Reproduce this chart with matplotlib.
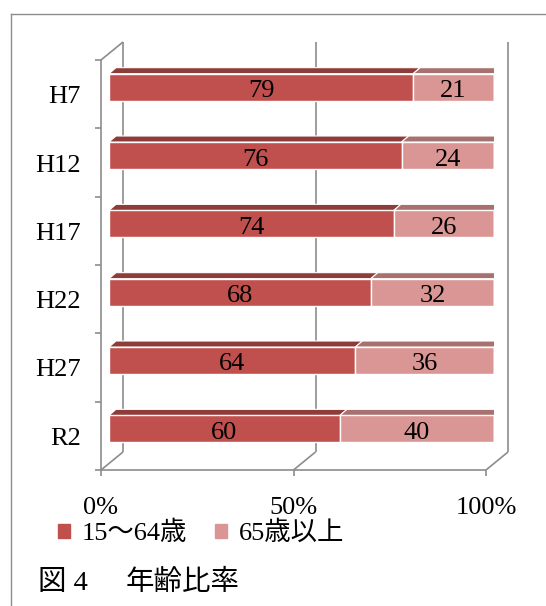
import matplotlib
matplotlib.use('Agg')
import matplotlib.pyplot as plt
from matplotlib.patches import Polygon, Patch
from matplotlib.lines import Line2D

# data (bottom to top)
years = ['R2', 'H27', 'H22', 'H17', 'H12', 'H7']
working = [60, 64, 68, 74, 76, 79]
elderly = [40, 36, 32, 26, 24, 21]
series_names = ['15～64歳', '65歳以上']
xticks = [0, 50, 100]
xtick_labels = ['0%', '50%', '100%']

# colours
front_cols = ['#C0504D', '#D99694']
top_cols = ['#8E3C3A', '#A8716F']
side_col = '#704A4A'
grid_col = '#8c8c8c'

serif = ['Liberation Serif', 'Noto Sans CJK JP']
plt.rcParams['font.family'] = serif
FS = 19

W, H = 546, 606
fig = plt.figure(figsize=(W / 100, H / 100), dpi=100)

# axes in the plane of the bar front faces
AX_L, AX_T, AX_W, AX_H = 109, 53, 385, 410
ax = fig.add_axes([AX_L / W, (H - AX_T - AX_H) / H, AX_W / W, AX_H / H])
ax.set_xlim(0, 100)
ax.set_ylim(-0.5, len(years) - 0.5)
ax.axis('off')


def d(dx, dy):
    # pixel offset (y down) -> data offset
    return dx * 100 / AX_W, -dy * len(years) / AX_H


fx, fy = d(-8, 7)    # front of the floor
bx, by = d(14, -11)  # back wall
ox, oy = d(7, -6)    # bar depth
y0, y1 = -0.5, len(years) - 0.5
lk = dict(color=grid_col, lw=1.2, clip_on=False, solid_capstyle='butt')

# back wall gridlines + floor
for v in xticks:
    ax.plot([v + bx, v + bx], [y0 + by, y1 + by], zorder=1, **lk)
    ax.plot([v + fx, v + bx], [y0 + fy, y0 + by], zorder=1, **lk)
    ax.plot([v + fx, v + fx], [y0 + fy, y0 + fy + d(0, 6)[1]], zorder=1, **lk)
ax.plot([fx, 100 + fx], [y0 + fy, y0 + fy], zorder=1, **lk)

# left (category) axis
ax.plot([fx, fx], [y0 + fy, y1 + fy], zorder=1, **lk)
ax.plot([fx, bx], [y1 + fy, y1 + by], zorder=1, **lk)
for k in range(len(years) + 1):
    yy = y0 + k + fy
    ax.plot([fx + d(-6, 0)[0], fx], [yy, yy], zorder=1, **lk)

# bars
bh = 0.395
pos = list(range(len(years)))
ax.barh(pos, working, height=bh, color=front_cols[0], edgecolor='white', lw=1, zorder=3)
ax.barh(pos, elderly, left=working, height=bh, color=front_cols[1], edgecolor='white', lw=1, zorder=3)

for i in pos:
    top = i + bh / 2
    bot = i - bh / 2
    segs = [(0, working[i]), (working[i], elderly[i])]
    for j, (l, w) in enumerate(segs):
        ax.add_patch(Polygon([(l, top), (l + ox, top + oy), (l + w + ox, top + oy), (l + w, top)],
                             closed=True, fc=top_cols[j], ec='white', lw=0.8, zorder=3))
        ax.text(l + w / 2, i + d(0, 4)[1], str([working, elderly][j][i]),
                ha='center', va='center', fontsize=FS, zorder=5)
    ax.add_patch(Polygon([(100, bot), (100, top), (100 + ox, top + oy), (100 + ox, bot + oy)],
                         closed=True, fc=side_col, ec='white', lw=0.6, zorder=3))

# tick labels
for i, lab in enumerate(years):
    ax.text(fx + d(-20, 0)[0], i + fy + d(0, 3)[1], lab, ha='right', va='center', fontsize=FS)
for v, lab in zip(xticks, xtick_labels):
    ax.text(v + fx, y0 + fy + d(0, 38)[1], lab, ha='center', va='center', fontsize=FS)

# legend
handles = [Patch(color=c) for c in front_cols]
fig.legend(handles, series_names, loc='center left', bbox_to_anchor=(58 / W, 1 - 533 / H),
           ncol=2, frameon=False, borderpad=0, borderaxespad=0,
           handlelength=0.45, handleheight=0.45, handletextpad=0.45, columnspacing=1.05,
           prop=dict(family=serif, size=FS))

# caption
fig.text(38 / W, 1 - 583 / H, '図 4', ha='left', va='center', fontsize=20.5, family=serif)
fig.text(126 / W, 1 - 583 / H, '年齢比率', ha='left', va='center', fontsize=20.5, family=serif)

# outer frame
fig.add_artist(Line2D([11 / W, 1], [1 - 14 / H, 1 - 14 / H], transform=fig.transFigure, color=grid_col, lw=1))
fig.add_artist(Line2D([11 / W, 11 / W], [1 - 14 / H, 1 - 605 / H], transform=fig.transFigure, color=grid_col, lw=1))

fig.savefig('out.png', dpi=100)
